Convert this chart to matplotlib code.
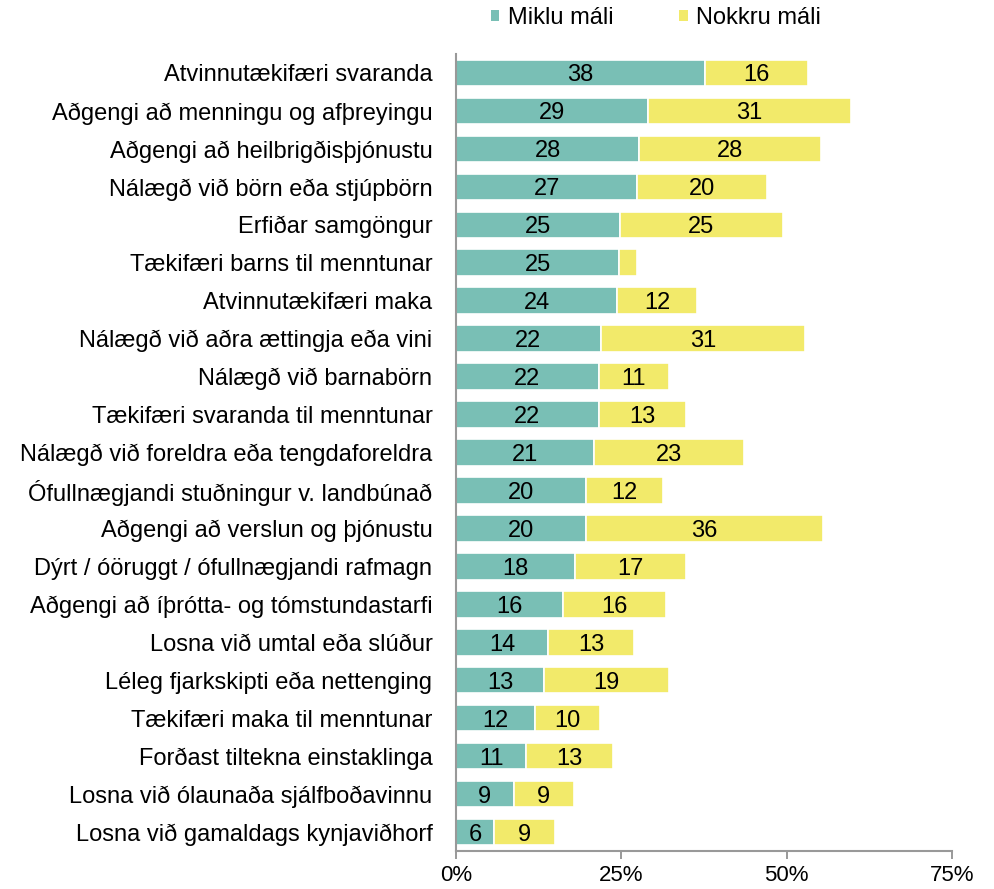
import matplotlib
matplotlib.use("Agg")
import matplotlib.pyplot as plt
from matplotlib.patches import Patch
import numpy as np

plt.rcParams['font.family'] = ['Liberation Sans', 'DejaVu Sans']

categories = [
    "Atvinnutækifæri svaranda",
    "Aðgengi að menningu og afþreyingu",
    "Aðgengi að heilbrigðisþjónustu",
    "Nálægð við börn eða stjúpbörn",
    "Erfiðar samgöngur",
    "Tækifæri barns til menntunar",
    "Atvinnutækifæri maka",
    "Nálægð við aðra ættingja eða vini",
    "Nálægð við barnabörn",
    "Tækifæri svaranda til menntunar",
    "Nálægð við foreldra eða tengdaforeldra",
    "Ófullnægjandi stuðningur v. landbúnað",
    "Aðgengi að verslun og þjónustu",
    "Dýrt / óöruggt / ófullnægjandi rafmagn",
    "Aðgengi að íþrótta- og tómstundastarfi",
    "Losna við umtal eða slúður",
    "Léleg fjarkskipti eða nettenging",
    "Tækifæri maka til menntunar",
    "Forðast tiltekna einstaklinga",
    "Losna við ólaunaða sjálfboðavinnu",
    "Losna við gamaldags kynjaviðhorf",
]
miklu = [37.6, 29.0, 27.7, 27.4, 24.8, 24.7, 24.4, 21.9, 21.6, 21.6, 20.8,
         19.7, 19.7, 18.0, 16.2, 13.9, 13.3, 11.9, 10.6, 8.7, 5.8]
nokkru = [15.6, 30.7, 27.5, 19.6, 24.6, 2.6, 12.0, 30.9, 10.6, 13.2, 22.8,
          11.6, 35.8, 16.8, 15.6, 13.0, 18.9, 9.9, 13.2, 9.1, 9.1]
series_names = ["Miklu máli", "Nokkru máli"]
xticks = [0, 25, 50, 75]
xticklabels = ["0%", "25%", "50%", "75%"]

teal = "#79BFB5"
yellow = "#F2EA6A"

fig = plt.figure(figsize=(9.95, 8.89), dpi=100)
ax = fig.add_axes([456/995, 1-851/889, (952-456)/995, (851-54)/889])

y = np.arange(len(categories))
miklu = np.array(miklu)
nokkru = np.array(nokkru)
ax.barh(y, miklu, height=0.7, color=teal, edgecolor="white", linewidth=1.2)
ax.barh(y, nokkru, left=miklu, height=0.7, color=yellow, edgecolor="white", linewidth=1.2)

fs = 17
for i in range(len(categories)):
    ax.text(miklu[i]/2, y[i], f"{miklu[i]:.0f}", ha="center", va="center_baseline", fontsize=fs, color="black")
    if nokkru[i] >= 5:
        ax.text(miklu[i] + nokkru[i]/2, y[i], f"{nokkru[i]:.0f}", ha="center", va="center_baseline", fontsize=fs, color="black")

ax.set_xlim(0, 75)
ax.set_ylim(len(categories)-0.5, -0.5)
ax.set_yticks(y)
ax.set_yticklabels(categories, fontsize=fs)
ax.tick_params(axis='y', length=0, pad=17)
ax.set_xticks(xticks)
ax.set_xticklabels(xticklabels, fontsize=16)
ax.tick_params(axis='x', length=6, color="#888888", width=1.2, pad=4)
for s in ["top", "right"]:
    ax.spines[s].set_visible(False)
for s in ["left", "bottom"]:
    ax.spines[s].set_color("#999999")
    ax.spines[s].set_linewidth(1.5)

handles = [Patch(facecolor=teal, edgecolor="none"), Patch(facecolor=yellow, edgecolor="none")]
fig.legend(handles, series_names, loc="center", bbox_to_anchor=(656/995, 1-18/889), ncol=2,
           frameon=False, fontsize=fs, handlelength=0.35, handleheight=0.35, handletextpad=0.35,
           columnspacing=2.8)

fig.savefig("out.png", dpi=100)
